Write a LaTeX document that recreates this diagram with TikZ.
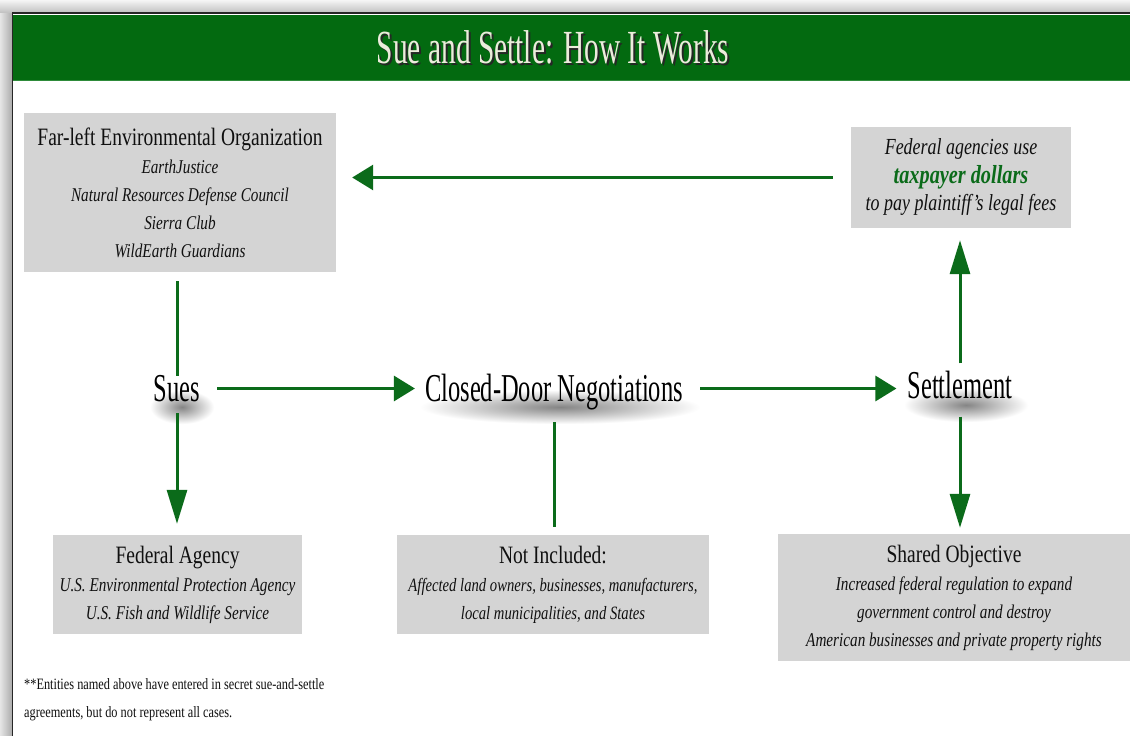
\documentclass[tikz,border=0pt]{standalone}
\usepackage{fontspec}
\setmainfont[FakeStretch=0.78]{Liberation Serif}
\newfontfamily\narrowserif[FakeStretch=0.62]{Liberation Serif}
\usetikzlibrary{arrows.meta}
\definecolor{banner}{HTML}{036A10}
\definecolor{banneredge}{HTML}{2E8B3A}
\definecolor{flowgreen}{HTML}{0B6B1A}
\definecolor{boxgray}{HTML}{D4D4D4}
\definecolor{titlecream}{HTML}{ECECDC}
\definecolor{inkgray}{HTML}{101010}
\tikzset{
  infobox/.style={fill=boxgray, text=inkgray, align=center, inner sep=0pt,
    font=\fontsize{19.5}{28}\selectfont\itshape},
  stepword/.style={font=\narrowserif\fontsize{39.5}{40}\selectfont, inner sep=0pt,
    text height=25pt, text depth=0pt, text=black},
  wordshadow/.style={inner color=black!48, outer color=white},
  hflow/.style={flowgreen, line width=3pt, -{Triangle[length=21pt,width=25pt]}},
  vflow/.style={flowgreen, line width=3pt, -{Triangle[length=34pt,width=20pt]}},
  plainflow/.style={flowgreen, line width=3pt}
}
\begin{document}
\begin{tikzpicture}[x=1pt,y=-1pt]
    \useasboundingbox (0,0) rectangle (1130,736);
    %% frame and its shadow
    \fill[gray!35] (0,0) rectangle (1130,736);
    \shade[top color=gray!8, bottom color=gray!50] (0,0) rectangle (1130,13);
    \shade[left color=gray!20, right color=gray!65] (0,13) rectangle (12,736);
    \fill[white] (12,13) rectangle (1130,736);
    \fill[banner] (13,15) rectangle (1130,81);
    \draw[banneredge, line width=1.2pt] (13,80.4) -- (1130,80.4);
    \draw[black!85, line width=1.6pt] (12.5,736) -- (12.5,13) -- (1130,13);
    %% title
    \node[font=\narrowserif\fontsize{47.5}{48}\selectfont, text=black!85] (titleshadow) at (555,49) {Sue and Settle: How It Works};
    \node[font=\narrowserif\fontsize{47.5}{48}\selectfont, text=titlecream] (title) at (553,47) {Sue and Settle: How It Works};
    %% boxes
    \node[infobox, minimum width=312pt, minimum height=159pt] (farleft) at (180,192.5)
        {{\fontsize{25}{28}\selectfont\upshape Far-left Environmental Organization}\\EarthJustice\\Natural Resources Defense Council\\Sierra Club\\WildEarth Guardians};
    \node[infobox, minimum width=220pt, minimum height=101pt, font=\fontsize{23}{28}\selectfont\itshape] (fees) at (961,177.5)
        {Federal agencies use\\{\bfseries\color{flowgreen}\fontsize{26}{28}\selectfont taxpayer dollars}\\to pay plaintiff’s legal fees};
    \node[infobox, minimum width=249pt, minimum height=99pt] (fedagency) at (177.5,584.5)
        {{\fontsize{25}{28}\selectfont\upshape Federal Agency}\\U.S. Environmental Protection Agency\\U.S. Fish and Wildlife Service};
    \node[infobox, minimum width=312pt, minimum height=99pt, font=\fontsize{18.8}{28}\selectfont\itshape] (notincl) at (553,584.5)
        {{\fontsize{25}{28}\selectfont\upshape Not Included:}\\Affected land owners, businesses, manufacturers,\\local municipalities, and States};
    \node[infobox, minimum width=352pt, minimum height=127pt] (shared) at (954,597.5)
        {{\fontsize{25}{28}\selectfont\upshape Shared Objective}\\Increased federal regulation to expand\\government control and destroy\\American businesses and private property rights};
    %% soft shadows under the steps
    \shade[wordshadow] (150,390) rectangle (214,424);
    \shade[wordshadow] (420,390) rectangle (700,424);
    \shade[wordshadow] (904,388) rectangle (1028,422);
    %% steps
    \node[stepword] (sues) at (177,388.5) {Sues};
    \node[stepword] (closed) at (554,388.5) {Closed-Door Negotiations};
    \node[stepword] (settle) at (960,386) {Settlement};
    %% connectors
    \draw[hflow, shorten <=18pt, shorten >=16pt] (fees.west) -- (fees.west -| farleft.east);
    \draw[plainflow, shorten <=9pt, shorten >=0pt] (farleft.south -| sues.north) -- (sues.north);
    \draw[vflow, shorten <=12pt, shorten >=11pt] (sues.south) -- (sues.south |- fedagency.north);
    \draw[hflow, shorten <=17pt, shorten >=10pt] (sues.east) -- (closed.west);
    \draw[hflow, shorten <=17pt, shorten >=11pt] (closed.east) -- (closed.east -| settle.west);
    \draw[plainflow, shorten <=21pt, shorten >=8pt] (closed.south) -- (closed.south |- notincl.north);
    \draw[vflow, shorten <=10pt, shorten >=12pt] (settle.north) -- (settle.north |- fees.south);
    \draw[vflow, shorten <=18pt, shorten >=6pt] (settle.south) -- (settle.south |- shared.north);
    %% footnote
    \node[anchor=north west, align=left, inner sep=0pt, text=inkgray, font=\fontsize{15.8}{28}\selectfont] (footnote) at (24,678)
        {**Entities named above have entered in secret sue-and-settle\\agreements, but do not represent all cases.};
\end{tikzpicture}
\end{document}
